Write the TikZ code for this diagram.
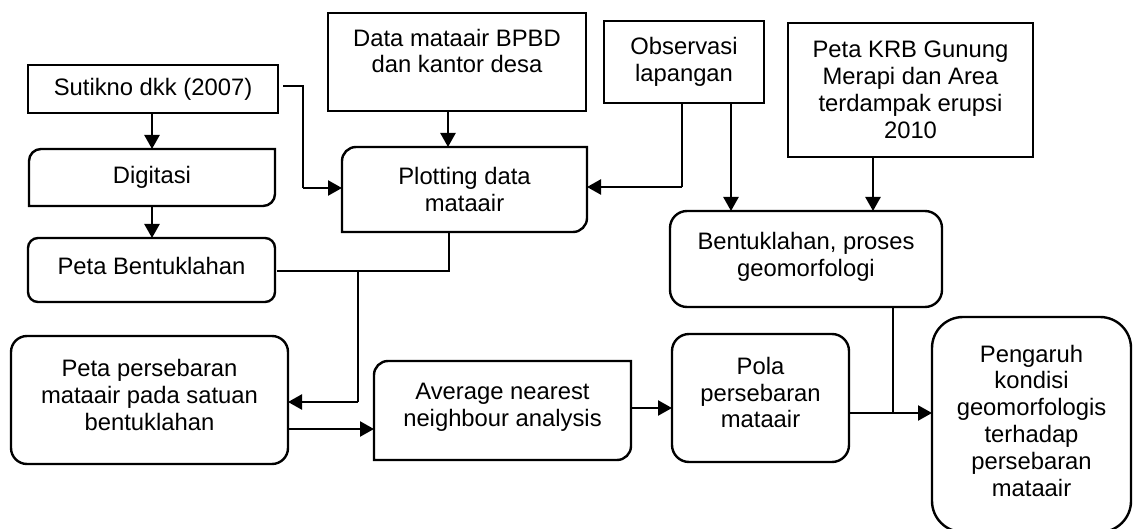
\documentclass[tikz,border=0pt]{standalone}
\usepackage{fontspec}
\setmainfont{Liberation Sans}
\usetikzlibrary{arrows.meta}
\newcommand\liftby[1]{\\[#1]\mbox{}}
\newcommand\diagframe[2]{\draw[frame] (#1.south west) -- ([yshift=-#2]#1.north west) arc[start angle=180,end angle=90,radius=#2] -- (#1.north east) -- ([yshift=#2]#1.south east) arc[start angle=0,end angle=-90,radius=#2] -- cycle;}
\begin{document}
\begin{tikzpicture}[x=0.5pt,y=-0.5pt,
  font=\fontsize{11.9}{13.4}\selectfont,
  frame/.style={line width=1.2pt},
  bx/.style={inner sep=0pt, outer sep=0pt, align=center, text=black},
  sq/.style={bx, draw, frame},
  rnd/.style={bx, draw, frame, rounded corners=#1},
  dg/.style={bx},
  thinln/.style={line width=0.6pt},
  arr/.style={line width=1.2pt, -{Triangle[length=7pt,width=7.5pt]}},
  sz/.style n args={2}{minimum width=#1, minimum height=#2}
]
\clip (0,0) rectangle (1134,529);
\fill[white] (0,0) rectangle (1134,529);

% nodes
\node[sq, sz={125pt}{24pt}] (sut) at (153,89) {Sutikno dkk (2007)};
\node[dg, sz={123pt}{28.5pt}] (dig) at (152,177.5) {Digitasi};
\diagframe{dig}{6pt}
\node[rnd=5pt, sz={123.5pt}{32pt}] (pb) at (151.5,270) {Peta Bentuklahan\liftby{-9.3pt}};
\node[sq, sz={129pt}{49pt}] (dm) at (457,62) {Data mataair BPBD\\dan kantor desa\liftby{-2.3pt}};
\node[dg, sz={122.5pt}{42.5pt}] (plot) at (464.5,189.5) {Plotting data\\mataair};
\diagframe{plot}{7pt}
\node[sq, sz={80pt}{41pt}] (obs) at (684,62) {Observasi\\lapangan};
\node[sq, sz={122.5pt}{67pt}] (krb) at (910.5,90) {Peta KRB Gunung\\Merapi dan Area\\terdampak erupsi\\2010};
\node[rnd=8.5pt, sz={136pt}{48pt}] (bp) at (806,259) {Bentuklahan, proses\\geomorfologi\liftby{-8.8pt}};
\node[rnd=8pt, sz={138.5pt}{64pt}] (pp) at (149.5,400) {Peta persebaran\\mataair pada satuan\\bentuklahan\liftby{-8.3pt}};
\node[dg, sz={128.5pt}{49.5pt}] (avg) at (502.5,410.5) {Average nearest\\neighbour analysis\liftby{-7.8pt}};
\diagframe{avg}{7pt}
\node[rnd=8.5pt, sz={88.5pt}{64pt}] (pola) at (760.5,398) {Pola\\persebaran\\mataair\liftby{-7.8pt}};
\node[rnd=15.5pt, sz={99.5pt}{107.5pt}] (pen) at (1031.5,424.5) {Pengaruh\\kondisi\\geomorfologis\\terhadap\\persebaran\\mataair\liftby{-9.3pt}};

% connectors
\draw[arr] (dig.north |- sut.south) -- (dig.north);
\draw[arr] (dig.south) -- (dig.south |- pb.north);
\coordinate (c1) at (303,188);
\draw[thinln] ([xshift=2.5pt,yshift=1.5pt]sut.east) -| (c1);
\draw[arr] (c1) -- (c1 -| plot.west);
\draw[arr] ([xshift=-4.5pt]dm.south) -- ([xshift=-4.5pt]dm.south |- plot.north);
\coordinate (c2) at (682,187);
\draw[thinln] (obs.south -| c2) -- (c2);
\draw[arr] (c2) -- (c2 -| plot.east);
\draw[arr] ([xshift=23.5pt]obs.south) -- ([xshift=23.5pt]obs.south |- bp.north);
\draw[arr] ([xshift=-18.75pt]krb.south) -- ([xshift=-18.75pt]krb.south |- bp.north);
\coordinate (c3) at (449,271);
\draw[thinln] (plot.south -| c3) -- (c3) -- ([xshift=1pt]c3 -| pb.east);
\coordinate (c4) at (358,271);
\coordinate (c5) at (358,402);
\draw[thinln] (c4) -- (c5);
\draw[arr] (c5) -- (c5 -| pp.east);
\draw[arr] ([yshift=-14.5pt]pp.east) -- ([yshift=-14.5pt]pp.east -| avg.west);
\draw[arr] ([yshift=1.25pt]avg.east) -- ([yshift=1.25pt]avg.east -| pola.west);
\coordinate (c7) at (893,413);
\draw[thinln] (bp.south -| c7) -- (c7);
\draw[arr] (pola.east |- c7) -- (c7 -| pen.west);
\end{tikzpicture}
\end{document}
